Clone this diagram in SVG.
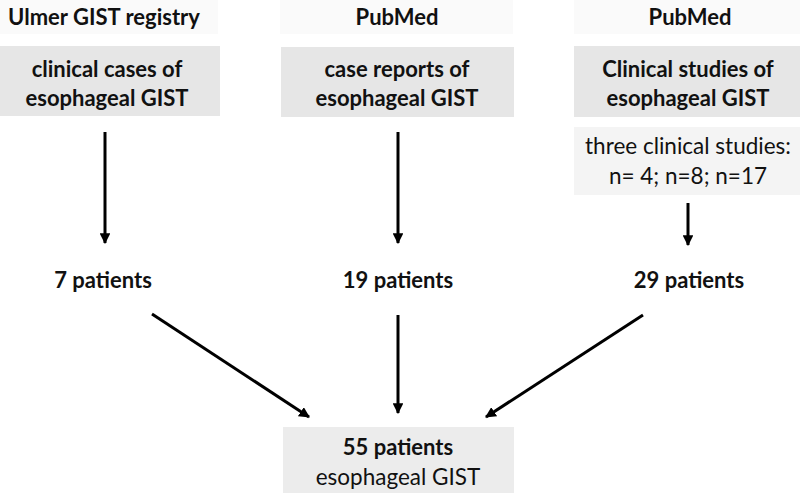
<svg xmlns="http://www.w3.org/2000/svg" width="800" height="493" viewBox="0 0 800 493">
<defs>
<style>
.t{font-family:Lato,"Open Sans","Liberation Sans",sans-serif;font-size:22px;fill:#111;text-anchor:middle}
.b{font-weight:bold}
.r{font-size:22.5px}
.hdr{fill:#fafafa}
.box{fill:#e6e6e6}
.lite{fill:#f4f4f4}
.fin{fill:#ececec}
.c{stroke:#000;stroke-width:3;fill:none;marker-end:url(#ah)}
</style>
<marker id="ah" viewBox="0 0 10 10" refX="9" refY="5" markerWidth="3.6" markerHeight="3.6" orient="auto" markerUnits="strokeWidth">
<path d="M0,0 L10,5 L0,10 z" fill="#000"/>
</marker>
</defs>
<rect width="800" height="493" fill="#fff"/>
<g id="h1"><rect class="hdr" x="0" y="0" width="218" height="34"/><text class="t b" x="104" y="25">Ulmer GIST registry</text></g>
<g id="h2"><rect class="hdr" x="280" y="0" width="233" height="34"/><text class="t b" x="397" y="25">PubMed</text></g>
<g id="h3"><rect class="hdr" x="574" y="0" width="226" height="34"/><text class="t b" x="690" y="25">PubMed</text></g>
<g id="b1"><rect class="box" x="0" y="46" width="220" height="70"/><text class="t b" x="107" y="77">clinical cases of</text><text class="t b" x="107" y="106">esophageal GIST</text></g>
<g id="b2"><rect class="box" x="281" y="47" width="233" height="70"/><text class="t b" x="397" y="77">case reports of</text><text class="t b" x="397" y="106">esophageal GIST</text></g>
<g id="b3"><rect class="box" x="574" y="46" width="226" height="71"/><text class="t b" x="688" y="77">Clinical studies of</text><text class="t b" x="688" y="106">esophageal GIST</text></g>
<g id="s3"><rect class="lite" x="574" y="127" width="226" height="68"/><text class="t r" x="688" y="154">three clinical studies:</text><text class="t r" x="688" y="184">n= 4; n=8; n=17</text></g>
<g id="p1"><text class="t b" x="103" y="288">7 patients</text></g>
<g id="p2"><text class="t b" x="398" y="288">19 patients</text></g>
<g id="p3"><text class="t b" x="689" y="288">29 patients</text></g>
<g id="fin"><rect class="fin" x="283" y="427" width="231" height="66"/><text class="t b" x="398" y="455">55 patients</text><text class="t r" x="398" y="485">esophageal GIST</text></g>
<g id="connectors">
<line class="c" x1="105" y1="132" x2="105" y2="243"/>
<line class="c" x1="398" y1="132" x2="398" y2="243"/>
<line class="c" x1="688" y1="203" x2="688" y2="245"/>
<line class="c" x1="152" y1="314" x2="309" y2="417"/>
<line class="c" x1="398" y1="315" x2="398" y2="413"/>
<line class="c" x1="643" y1="315" x2="486" y2="417"/>
</g>
</svg>
